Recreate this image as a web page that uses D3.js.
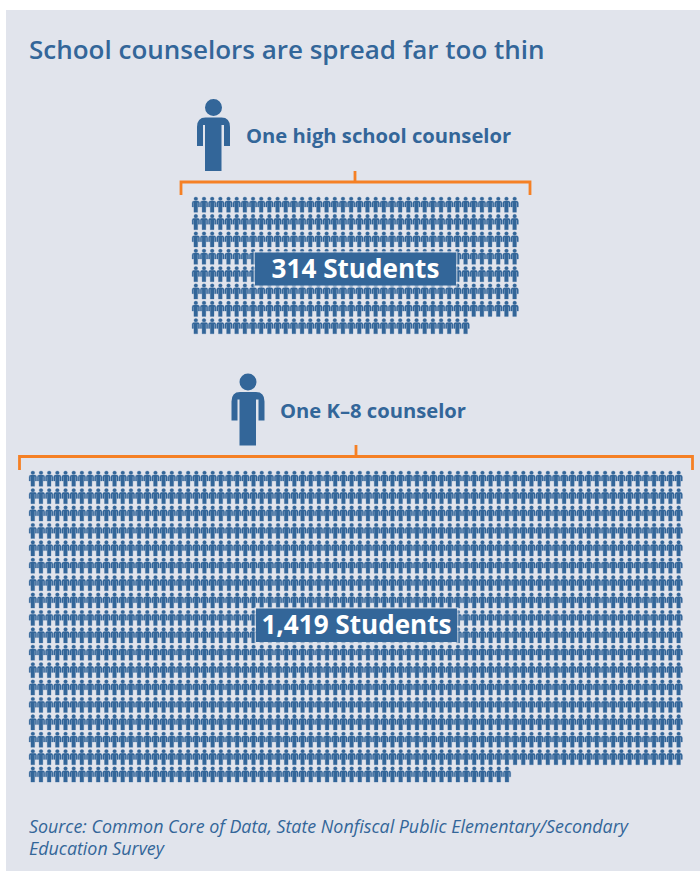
<!DOCTYPE html>
<html><head><meta charset="utf-8">
<script src="https://cdn.jsdelivr.net/npm/d3@7"></script>
<style>html,body{margin:0;padding:0;background:#fff}svg{display:block}</style>
</head><body><div id="chart"></div>
<script>
const counselorLabels = ["One high school counselor", "One K\u20138 counselor"];
const studentCounts = [314, 1419];
const studentLabels = ["314 Students", "1,419 Students"];
const columnsPerRow = [40, 80];
const titleText = "School counselors are spread far too thin";
const sourceLines = ["Source: Common Core of Data, State Nonfiscal Public Elementary/Secondary", "Education Survey"];

const W = 700, H = 872;
const BLUE = "#336699", BG = "#e1e4ec", ORANGE = "#f58025";
const FONT = "'Open Sans','Noto Sans',sans-serif";

const svg = d3.select("#chart").append("svg").attr("width", W).attr("height", H);
svg.append("rect").attr("x", 6).attr("y", 10).attr("width", W - 6).attr("height", H - 11).attr("fill", BG);

// Person pictogram in a 34 x 72 box, used at full size and scaled down for students
const personPath = d3.path();
personPath.moveTo(25.5, 8.5); personPath.arc(17, 8.5, 8.5, 0, Math.PI * 2);
personPath.moveTo(9, 18.5);
personPath.lineTo(25, 18.5);
personPath.quadraticCurveTo(33.5, 18.5, 33.5, 28);
personPath.lineTo(33.5, 47);
personPath.lineTo(27.5, 47);
personPath.lineTo(27.5, 26);
personPath.lineTo(25, 26);
personPath.lineTo(25, 72);
personPath.lineTo(8.5, 72);
personPath.lineTo(8.5, 26);
personPath.lineTo(6.5, 26);
personPath.lineTo(6.5, 47);
personPath.lineTo(0.5, 47);
personPath.lineTo(0.5, 28);
personPath.quadraticCurveTo(0.5, 18.5, 9, 18.5);
personPath.closePath();
const personD = personPath.toString();

svg.append("text").attr("x", 29).attr("y", 59).attr("fill", BLUE)
  .attr("font-family", FONT).attr("font-weight", 600).attr("font-size", 26).text(titleText);

const blocks = [
  { idx: 0, iconX: 196.5, iconY: 99, labelX: 246, labelY: 143, brX0: 181, brX1: 530, brY: 182, brTop: 171, brBot: 195, cx: 355,
    gx0: 192, gx1: 518.5, gy0: 197, rowStep: 17.35, boxX: 255, boxW: 201, boxY: 252.5, boxH: 33 },
  { idx: 1, iconX: 231, iconY: 373.5, labelX: 280, labelY: 418, brX0: 19.5, brX1: 692.5, brY: 456.5, brTop: 445, brBot: 470, cx: 356,
    gx0: 29, gx1: 682.5, gy0: 471, rowStep: 17.4, boxX: 256, boxW: 201, boxY: 608.5, boxH: 33.5 }
];

blocks.forEach(b => {
  const g = svg.append("g");
  g.append("path").attr("d", personD).attr("transform", `translate(${b.iconX},${b.iconY})`).attr("fill", BLUE);
  g.append("text").attr("x", b.labelX).attr("y", b.labelY).attr("fill", BLUE)
    .attr("font-family", FONT).attr("font-weight", 700).attr("font-size", 20.2).text(counselorLabels[b.idx]);

  // Orange bracket spanning the student group
  g.append("path")
    .attr("d", `M${b.brX0},${b.brBot}V${b.brY}H${b.brX1}V${b.brBot}M${b.cx},${b.brY}V${b.brTop}`)
    .attr("fill", "none").attr("stroke", ORANGE).attr("stroke-width", 2.8);

  // One small figure per student, filling the rows left to right
  const cols = columnsPerRow[b.idx];
  const students = d3.range(studentCounts[b.idx]);
  const x = d3.scaleBand().domain(d3.range(cols)).range([b.gx0, b.gx1]).paddingInner(0.06).paddingOuter(0);
  const nRows = Math.ceil(students.length / cols);
  const y = d3.scaleLinear().domain([0, nRows - 1]).range([b.gy0, b.gy0 + b.rowStep * (nRows - 1)]);
  g.append("g").selectAll("path").data(students).join("path")
    .attr("d", personD)
    .attr("fill", BLUE)
    .attr("stroke", BLUE).attr("stroke-width", 1.2)
    .attr("transform", d => `translate(${x(d % cols)},${y(Math.floor(d / cols))}) scale(${x.bandwidth() / 34},${15.3 / 72})`);

  g.append("rect").attr("x", b.boxX).attr("y", b.boxY).attr("width", b.boxW).attr("height", b.boxH)
    .attr("fill", BLUE).attr("stroke", BG).attr("stroke-opacity", 0.6).attr("stroke-width", 3).attr("paint-order", "stroke");
  g.append("text").attr("x", b.boxX + b.boxW / 2).attr("y", b.boxY + 25.5).attr("text-anchor", "middle")
    .attr("fill", "#fff").attr("font-family", FONT).attr("font-weight", 700).attr("font-size", 26.1).text(studentLabels[b.idx]);
});

svg.append("g").selectAll("text").data(sourceLines).join("text")
  .attr("x", 29).attr("y", (d, i) => 833 + i * 22)
  .attr("fill", BLUE).attr("font-family", FONT).attr("font-style", "italic").attr("font-size", 17.85).text(d => d);
</script></body></html>
